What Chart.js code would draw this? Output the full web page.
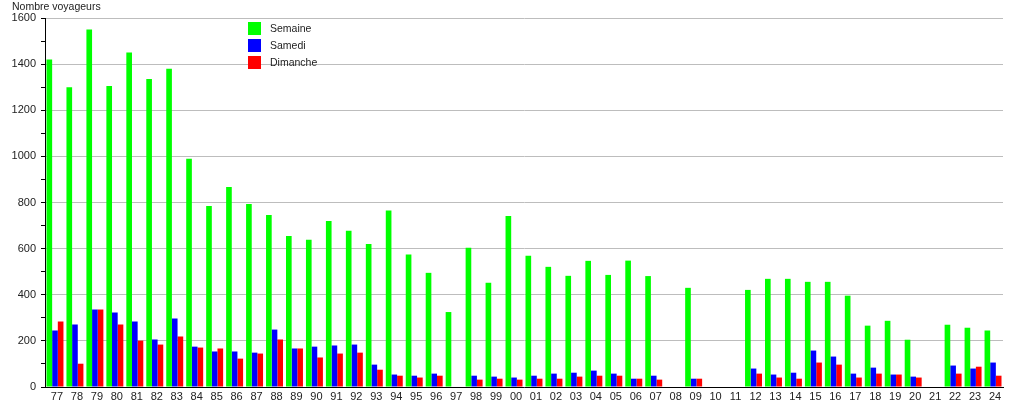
<!DOCTYPE html>
<html>
<head>
<meta charset="utf-8">
<script src="https://cdn.jsdelivr.net/npm/chart.js@4/dist/chart.umd.min.js"></script>
<style>
html,body{margin:0;padding:0;background:#fff;}
#wrap{width:1015px;height:400px;}
</style>
</head>
<body>
<div id="wrap"><canvas id="c" width="1015" height="400"></canvas></div>
<script>
const years = ['77','78','79','80','81','82','83','84','85','86','87','88','89','90','91','92','93','94','95','96','97','98','99',
  '00','01','02','03','04','05','06','07','08','09','10','11','12','13','14','15','16','17','18','19','20','21','22','23','24'];
const semaine = [1420,1300,1550,1305,1450,1335,1380,990,785,867,794,746,655,638,720,677,620,765,574,495,325,604,452,
  742,569,521,482,547,486,548,481,0,430,0,0,421,469,469,456,456,396,266,287,205,0,270,257,245];
const samedi = [245,271,336,323,284,206,297,175,154,154,149,249,167,175,180,184,97,54,49,58,0,49,45,
  41,49,58,62,71,58,36,49,0,36,0,0,80,54,62,158,132,58,84,54,45,0,93,80,106];
const dimanche = [284,101,336,271,201,184,219,171,167,123,145,206,167,128,145,149,75,49,41,49,0,32,36,
  32,36,36,45,49,49,36,32,0,36,0,0,58,41,36,106,97,41,58,54,41,0,58,88,49];
const seriesNames = ['Semaine','Samedi','Dimanche'];
const seriesColors = ['#00ff00','#0000ff','#ff0000'];
const yTitle = 'Nombre voyageurs';

const FONT = '"Liberation Sans", Arial, sans-serif';

const overlay = {
  id: 'overlay',
  afterDatasetsDraw(chart) {
    const ctx = chart.ctx;
    const area = chart.chartArea;
    ctx.save();
    ctx.font = '10.5px ' + FONT;
    ctx.fillStyle = '#222';
    ctx.textBaseline = 'middle';
    ctx.textAlign = 'left';
    ctx.fillText(yTitle, 12, 7);
    // legend inside plot area
    const lx = area.left + 203, ly = area.top + 4;
    chart.data.datasets.forEach((ds, i) => {
      ctx.fillStyle = ds.backgroundColor;
      ctx.fillRect(lx, ly + i * 17, 13, 13);
      ctx.fillStyle = '#222';
      ctx.fillText(ds.label, lx + 22, ly + i * 17 + 7);
    });
    ctx.restore();
  }
};

new Chart(document.getElementById('c'), {
  type: 'bar',
  data: {
    labels: years,
    datasets: [
      {label: seriesNames[0], data: semaine, backgroundColor: seriesColors[0]},
      {label: seriesNames[1], data: samedi, backgroundColor: seriesColors[1]},
      {label: seriesNames[2], data: dimanche, backgroundColor: seriesColors[2]}
    ]
  },
  options: {
    responsive: false,
    animation: false,
    events: [],
    layout: {padding: {left: 0, right: 12, top: 18, bottom: 0}},
    datasets: {bar: {categoryPercentage: 0.85, barPercentage: 1.0, borderWidth: 0}},
    plugins: {legend: {display: false}, tooltip: {enabled: false}, title: {display: false}},
    scales: {
      x: {
        offset: true,
        grid: {display: false, drawTicks: false},
        border: {display: true, color: '#000', width: 1},
        ticks: {font: {family: FONT, size: 11}, color: '#222', padding: 3, labelOffset: 2, autoSkip: false, maxRotation: 0},
        afterFit(s) { s.height = 13; }
      },
      y: {
        min: 0, max: 1600,
        ticks: {
          stepSize: 100,
          font: {family: FONT, size: 11}, color: '#222', padding: 5,
          callback: (v) => (v % 200 === 0 ? String(v) : '')
        },
        grid: {
          color: (c) => (c.tick && c.tick.value % 200 === 0 ? '#bdbdbd' : 'rgba(0,0,0,0)'),
          tickColor: '#000',
          tickLength: 4,
          lineWidth: 1
        },
        border: {display: true, color: '#000', width: 1},
        afterFit(s) { s.width = 45; }
      }
    }
  },
  plugins: [overlay]
});
</script>
</body>
</html>
